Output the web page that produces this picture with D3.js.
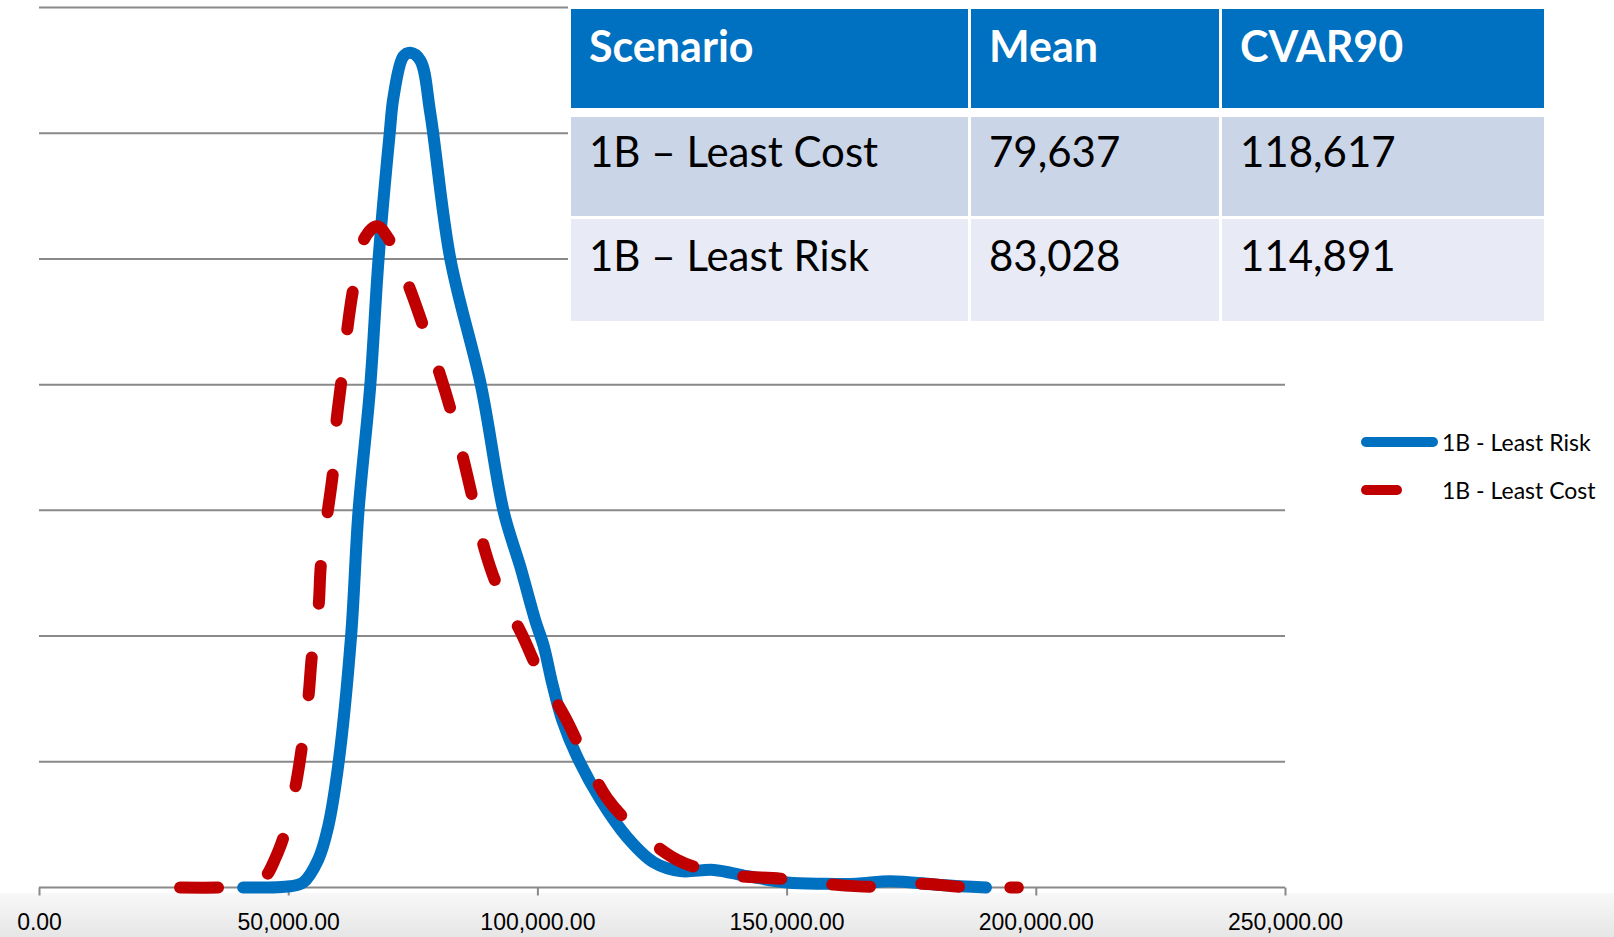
<!DOCTYPE html>
<meta charset="utf-8">
<html lang="en">
<head>
<title>Least Cost vs Least Risk</title>
<script src="https://d3js.org/d3.v7.min.js"></script>
<style>
  body { margin: 0; background: #fff; }
  svg { display: block; font-family: Lato, "Open Sans", sans-serif; }
  .axis text { font-size: 23px; fill: #000; }
  .axis path, .axis line { stroke: #898989; stroke-width: 2px; }
  .grid line { stroke: #898989; stroke-width: 2px; }
  .legend text { font-size: 23px; fill: #000; }
</style>
</head>
<body>
<div id="chart"></div>
<script>

// x ticks of the cost axis
const xTicks = [0, 50000, 100000, 150000, 200000, 250000];
// gridlines (no labels shown on the y axis)
const yTicks = [0, 1, 2, 3, 4, 5, 6, 7];

// 1B - Least Risk (solid blue)
const leastRiskX = [40960, 50400, 53000, 56000, 58000, 60100, 62600, 64100, 66460, 68130,
  70340, 71140, 73090, 74500, 76500, 78510, 82530, 88700, 93230, 96580, 99600, 101270,
  103000, 105000, 107970, 112650, 118000, 123350, 128700, 135400, 142100, 150100, 157500,
  164000, 170900, 180900, 190000];
const leastRiskY = [0.0, 0.01, 0.04, 0.22, 0.48, 0.99, 1.99, 2.99, 3.99, 5.0,
  5.99, 6.29, 6.61, 6.64, 6.58, 6.16, 5.0, 3.99, 2.99, 2.55, 2.12, 1.92,
  1.62, 1.33, 1.04, 0.70, 0.40, 0.20, 0.13, 0.14, 0.09, 0.04, 0.03,
  0.03, 0.05, 0.02, 0.0];

// 1B - Least Cost (dashed red)
const leastCostX = [28300, 35900, 41360, 43970, 45720, 47390, 49050, 51400, 52750, 54070,
  54750, 56080, 56560, 57890, 58970, 59640, 60640, 61790, 62990, 65120, 67810, 70140,
  74150, 77050, 80380, 82670, 85200, 87090, 89560, 92230, 96930, 100260, 105620, 108970,
  113990, 119330, 128030, 134740, 140560, 148800, 158830, 167100, 177300, 185300, 196400];
const leastCostY = [0.0, 0.0, 0.01, 0.04, 0.10, 0.23, 0.40, 0.79, 1.12, 1.52,
  1.84, 2.23, 2.57, 2.98, 3.30, 3.69, 4.02, 4.42, 4.75, 5.15, 5.26, 5.16,
  4.79, 4.47, 4.09, 3.79, 3.40, 3.08, 2.67, 2.37, 2.01, 1.72, 1.35, 1.08,
  0.71, 0.48, 0.22, 0.13, 0.09, 0.07, 0.025, 0.006, 0.03, 0.004, 0.0];

// summary table
const tableHeader = ["Scenario", "Mean", "CVAR90"];
const tableScenarios = ["1B \u2013 Least Cost", "1B \u2013 Least Risk"];
const tableMean = [79637, 83028];
const tableCvar = [118617, 114891];

const seriesNames = ["1B - Least Risk", "1B - Least Cost"];
const BLUE = "#0070C0", RED = "#C00000";
const DASH = 38; // dash length of the red line (round caps add to it)

const width = 1614, height = 937;

const svg = d3.select("#chart").append("svg")
    .attr("width", width)
    .attr("height", height);

// light grey footer band like the slide
const grad = svg.append("defs").append("linearGradient")
    .attr("id", "foot").attr("x1", 0).attr("y1", 0).attr("x2", 0).attr("y2", 1);
grad.append("stop").attr("offset", "0%").attr("stop-color", "#f8f8f8");
grad.append("stop").attr("offset", "100%").attr("stop-color", "#e6e6e6");
svg.append("rect").attr("x", 0).attr("y", 893).attr("width", width).attr("height", height - 893)
    .attr("fill", "url(#foot)");

const x = d3.scaleLinear().domain([0, 250000]).range([39, 1285]);
const y = d3.scaleLinear().domain([0, 7]).range([887.5, 7.5]);

// gridlines
svg.append("g").attr("class", "grid")
  .selectAll("line").data(yTicks.slice(1)).enter().append("line")
    .attr("x1", x(0)).attr("x2", x(250000))
    .attr("y1", d => y(d)).attr("y2", d => y(d));

// x axis
const xAxis = svg.append("g").attr("class", "axis")
    .attr("transform", "translate(0," + y(0) + ")")
    .call(d3.axisBottom(x).tickValues(xTicks).tickFormat(d3.format(",.2f"))
        .tickSizeInner(8).tickSizeOuter(0).tickPadding(18));
xAxis.select(".domain").attr("d", "M" + x(0) + ",0H" + x(250000));

const line = d3.line()
    .x(d => x(d[0]))
    .y(d => y(d[1]))
    .curve(d3.curveCatmullRom.alpha(0.5));

const riskData = leastRiskX.map((v, i) => [v, leastRiskY[i]]);
const costData = leastCostX.map((v, i) => [v, leastCostY[i]]);

svg.append("path").datum(riskData)
    .attr("d", line)
    .attr("fill", "none")
    .attr("stroke", BLUE)
    .attr("stroke-width", 12)
    .attr("stroke-linecap", "round")
    .attr("stroke-linejoin", "round");

const costPath = svg.append("path").datum(costData)
    .attr("d", line)
    .attr("fill", "none")
    .attr("stroke", RED)
    .attr("stroke-width", 12)
    .attr("stroke-linecap", "round")
    .attr("stroke-linejoin", "round");

// spread the dashes so the 9th one sits on the peak and the 21st is the dot at the end
const node = costPath.node();
const total = node.getTotalLength();
let peakLen = 0, peakY = Infinity;
for (let l = 0; l <= total; l += 0.5) {
    const p = node.getPointAtLength(l);
    if (p.y < peakY) { peakY = p.y; peakLen = l; }
}
const start9 = peakLen - DASH / 2;
const p1 = start9 / 8;
const p2 = (total - 8 - start9) / 12;
const dashes = [];
for (let i = 0; i < 8; i++) dashes.push(DASH, p1 - DASH);
for (let i = 0; i < 13; i++) dashes.push(DASH, p2 - DASH);
costPath.attr("stroke-dasharray", dashes.map(d => d.toFixed(2)).join(" "));

// table on top of the plot
const colEdges = [571, 971, 1222, 1544];
const rowEdges = [[9, 108], [117, 216], [219, 321]];
const rowFills = [BLUE, "#CBD5E8", "#E8EBF5"];
const rowBase = [62, 167, 271];

const tableRows = [tableHeader].concat(tableScenarios.map((s, i) =>
    [s, d3.format(",")(tableMean[i]), d3.format(",")(tableCvar[i])]));

const table = svg.append("g").attr("class", "table");
table.append("rect")
    .attr("x", colEdges[0] - 3).attr("y", 3)
    .attr("width", colEdges[3] - colEdges[0] + 6).attr("height", 322)
    .attr("fill", "#fff");
tableRows.forEach(function (row, r) {
    row.forEach(function (cell, c) {
        const x0 = colEdges[c];
        const x1 = colEdges[c + 1] - (c < 2 ? 3 : 0);
        table.append("rect")
            .attr("x", x0).attr("y", rowEdges[r][0])
            .attr("width", x1 - x0).attr("height", rowEdges[r][1] - rowEdges[r][0])
            .attr("fill", rowFills[r]);
        table.append("text")
            .attr("x", x0 + 18)
            .attr("y", rowBase[r])
            .attr("font-size", r === 0 ? 43 : 42)
            .attr("font-weight", r === 0 ? 700 : 400)
            .attr("fill", r === 0 ? "#fff" : "#000")
            .text(cell);
    });
});

// legend
const legend = svg.append("g").attr("class", "legend");
const legendItems = [
  { name: seriesNames[0], color: BLUE, y: 442, x2: 1433 },
  { name: seriesNames[1], color: RED, y: 490, x2: 1397 }
];
legendItems.forEach(function (d) {
    legend.append("line")
        .attr("x1", 1366).attr("x2", d.x2)
        .attr("y1", d.y).attr("y2", d.y)
        .attr("stroke", d.color)
        .attr("stroke-width", 10)
        .attr("stroke-linecap", "round");
    legend.append("text")
        .attr("x", 1442)
        .attr("y", d.y + 9)
        .text(d.name);
});

</script>
</body>
</html>
